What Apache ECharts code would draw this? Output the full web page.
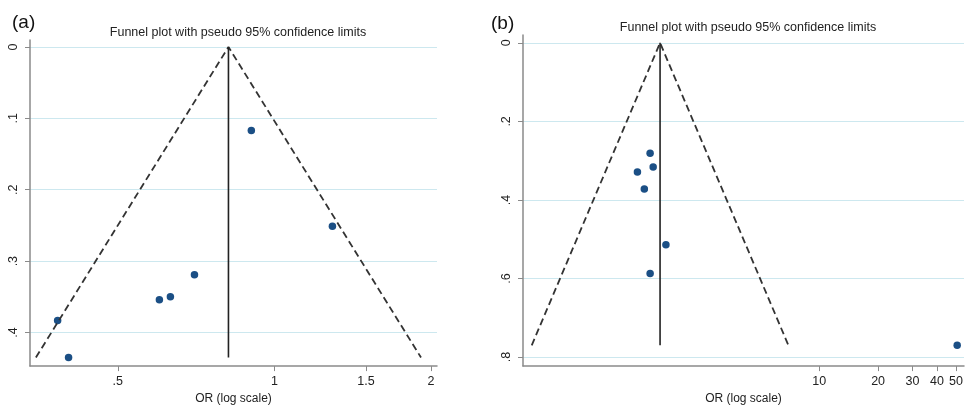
<!DOCTYPE html>
<html>
<head>
<meta charset="utf-8">
<script src="https://cdn.jsdelivr.net/npm/echarts@6/dist/echarts.min.js"></script>
<style>
  html, body { margin: 0; padding: 0; background: #fff; }
  #chart { width: 968px; height: 410px; }
</style>
</head>
<body>
<div id="chart"></div>
<script>
// panel (a)
var orA = [0.903, 1.293, 0.702, 0.601, 0.631, 0.383, 0.402];
var seA = [0.117, 0.251, 0.319, 0.354, 0.350, 0.383, 0.435];
var pooledA = 0.816;
var xTicksA = [0.5, 1, 1.5, 2];
var xLabelsA = ['.5', '1', '1.5', '2'];
var yTicksA = [0, 0.1, 0.2, 0.3, 0.4];
var yLabelsA = ['0', '.1', '.2', '.3', '.4'];

// panel (b)
var orB = [1.37, 1.42, 1.18, 1.28, 1.65, 1.37, 50.7];
var seB = [0.281, 0.316, 0.329, 0.372, 0.514, 0.587, 0.770];
var pooledB = 1.54;
var xTicksB = [10, 20, 30, 40, 50];
var xLabelsB = ['10', '20', '30', '40', '50'];
var yTicksB = [0, 0.2, 0.4, 0.6, 0.8];
var yLabelsB = ['0', '.2', '.4', '.6', '.8'];

var titleText = 'Funnel plot with pseudo 95% confidence limits';
var xName = 'OR (log scale)';
var FONT = '"Liberation Sans", Arial, sans-serif';

function pickLabel(ticks, labels, v, logged) {
	for (var i = 0; i < ticks.length; i++) {
		var t = logged ? Math.log(ticks[i]) : ticks[i];
		if (Math.abs(t - v) < 1e-6) return labels[i];
	}
	return '';
}

function makeX(idx, min, max, ticks, labels) {
	return {
		gridIndex: idx,
		type: 'value',
		min: min,
		max: max,
		name: xName,
		nameLocation: 'middle',
		nameGap: 24,
		nameTextStyle: { fontFamily: FONT, fontSize: 12, color: '#222' },
		axisLine: { show: true, onZero: false, lineStyle: { color: '#8a8a8a', width: 1.5 } },
		axisTick: { show: true, length: 5, lineStyle: { color: '#8a8a8a' }, customValues: ticks.map(Math.log) },
		axisLabel: {
			fontFamily: FONT, fontSize: 12.5, color: '#222', margin: 9,
			customValues: ticks.map(Math.log),
			formatter: function (v) { return pickLabel(ticks, labels, v, true); }
		},
		splitLine: { show: false }
	};
}

function makeY(idx, min, max, ticks, labels) {
	return {
		gridIndex: idx,
		type: 'value',
		inverse: true,
		min: min,
		max: max,
		axisLine: { show: true, onZero: false, lineStyle: { color: '#8a8a8a', width: 1.5 } },
		axisTick: { show: true, length: 5, lineStyle: { color: '#8a8a8a' }, customValues: ticks },
		axisLabel: {
			fontFamily: FONT, fontSize: 12.5, color: '#222', rotate: 90, margin: 10,
			customValues: ticks,
			formatter: function (v) { return pickLabel(ticks, labels, v, false); }
		},
		splitLine: { show: true, lineStyle: { color: '#cde8ef', width: 1 } }
	};
}

function funnelSeries(idx, or, se, pooled) {
	var th = Math.log(pooled);
	var sMax = Math.max.apply(null, se);
	var pts = or.map(function (o, i) { return [Math.log(o), se[i]]; });
	return [
		{
			type: 'line', xAxisIndex: idx, yAxisIndex: idx,
			data: [[th - 1.96 * sMax, sMax], [th, 0], [th + 1.96 * sMax, sMax]],
			symbol: 'none', silent: true,
			lineStyle: { color: '#333', width: 1.8, type: [7, 4] }
		},
		{
			type: 'line', xAxisIndex: idx, yAxisIndex: idx,
			data: [[th, 0], [th, sMax]],
			symbol: 'none', silent: true,
			lineStyle: { color: '#222', width: 1.6 }
		},
		{
			type: 'scatter', xAxisIndex: idx, yAxisIndex: idx,
			data: pts, symbol: 'circle', symbolSize: 7.5,
			itemStyle: { color: '#1b4f85', opacity: 1 }
		}
	];
}

var myChart = echarts.init(document.getElementById('chart'));

var option = {
	animation: false,
	backgroundColor: '#fff',
	title: [
		{ text: titleText, left: 233, top: 21, textAlign: 'center',
		  textStyle: { fontFamily: FONT, fontSize: 12.5, fontWeight: 'normal', color: '#222' } },
		{ text: titleText, left: 743, top: 16, textAlign: 'center',
		  textStyle: { fontFamily: FONT, fontSize: 12.5, fontWeight: 'normal', color: '#222' } },
		{ text: '(a)', left: 7, top: 8,
		  textStyle: { fontFamily: FONT, fontSize: 19, fontWeight: 'normal', color: '#111' } },
		{ text: '(b)', left: 486, top: 9,
		  textStyle: { fontFamily: FONT, fontSize: 19, fontWeight: 'normal', color: '#111' } }
	],
	grid: [
		{ left: 30, top: 40, width: 407, height: 329 },
		{ left: 523, top: 35, width: 441, height: 333 }
	],
	xAxis: [
		makeX(0, -1.082, 0.72, xTicksA, xLabelsA),
		makeX(1, -1.18, 4.006, xTicksB, xLabelsB)
	],
	yAxis: [
		makeY(0, -0.0097, 0.447, yTicksA, yLabelsA),
		makeY(1, -0.020, 0.823, yTicksB, yLabelsB)
	],
	series: funnelSeries(0, orA, seA, pooledA).concat(funnelSeries(1, orB, seB, pooledB))
};

myChart.setOption(option);
</script>
</body>
</html>
